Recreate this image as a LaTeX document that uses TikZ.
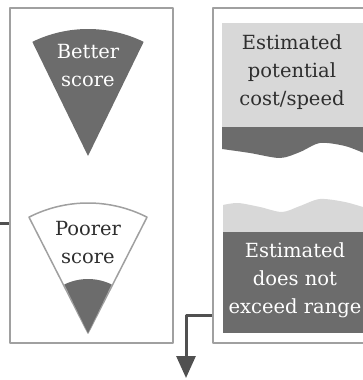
\documentclass[tikz,border=0pt]{standalone}
\usepackage{fontspec}
\setmainfont{DejaVu Serif}
\usetikzlibrary{arrows.meta}
\definecolor{wedgegray}{HTML}{6C6C6C}
\definecolor{palegray}{HTML}{D8D8D8}
\definecolor{framegray}{HTML}{A0A0A0}
\definecolor{inkgray}{HTML}{2E2E2E}
\definecolor{linkgray}{HTML}{505050}
\tikzset{
	panel/.style={draw=framegray, line width=2pt, inner sep=0pt},
	label/.style={align=center, font=\fontsize{19.5}{28}\selectfont, inner sep=0pt},
	link/.style={draw=linkgray, line width=3pt},
}
\begin{document}
\begin{tikzpicture}[x=1pt, y=1pt, line join=round, declare function={R=127; Rb=130; Rc=54;}]
		\useasboundingbox (0,0) rectangle (363,-380);
		\clip (0,0) rectangle (363,-380);
		\path (88,-156) coordinate (A) (88,-333) coordinate (B) (0,-223) coordinate (feed) (186,-378) coordinate (out);
		% two panels
		\node[panel, minimum width=163pt, minimum height=335pt] (leftpanel) at (91.5,-175.5) {};
		\node[panel, minimum width=159pt, minimum height=335pt] (rightpanel) at (292.5,-175.5) {};
		% wedges
		\fill[wedgegray] (A) -- +(116:R) arc[start angle=116, end angle=64, radius=R] -- cycle;
		\draw[framegray, line width=1.5pt, fill=white] (B) -- +(117:Rb) arc[start angle=117, end angle=63, radius=Rb] -- cycle;
		\fill[wedgegray] (B) -- +(116:Rc) arc[start angle=116, end angle=64, radius=Rc] -- cycle;
		\node[label, text=white] (better) at (88,-66) {Better\\score};
		\node[label, text=inkgray] (poorer) at (88,-243) {Poorer\\score};
		% torn sheets
		\fill[palegray] (222,-23) rectangle (366,-127);
		\fill[wedgegray] (222,-127) -- plot[smooth] coordinates {(222,-149) (250,-153) (280,-158) (300,-152) (320,-143) (345,-146) (366,-154)} -- (366,-127) -- cycle;
		\fill[palegray] (223,-232) -- plot[smooth] coordinates {(223,-205) (238,-203) (260,-207) (282,-212) (300,-206) (320,-199) (345,-202) (366,-208)} -- (366,-232) -- cycle;
		\fill[wedgegray] (223,-232) rectangle (366,-333);
		\node[label, text=inkgray] (cost) at (292,-72) {Estimated\\potential\\cost/speed};
		\node[label, text=white] (range) at (295,-280) {Estimated\\does not\\exceed range};
		% connectors
		\draw[link] (feed) -- (feed -| leftpanel.west);
		\draw[link, -{Triangle[length=22pt, width=19pt]}] (rightpanel.west |- 0,-315) -| (out);
	\end{tikzpicture}
\end{document}
